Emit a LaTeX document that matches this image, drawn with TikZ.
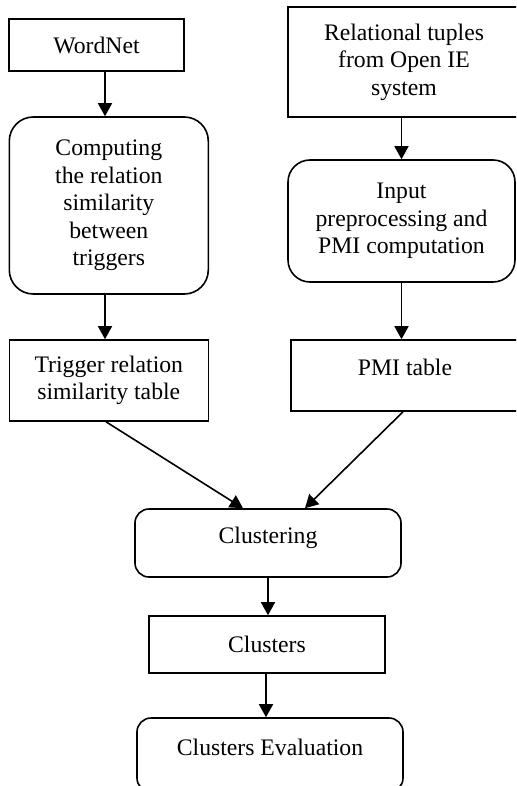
\documentclass[tikz,border=0pt]{standalone}
\usepackage{fontspec}
\setmainfont{Liberation Serif}
\usetikzlibrary{arrows.meta}
\begin{document}
\begin{tikzpicture}[x=1pt,y=-1pt,
  box/.style={draw, line width=1.6pt, align=center, inner sep=0pt, font=\fontsize{23.7}{27.5}\selectfont},
  rbox/.style={box, rounded corners=#1},
  rbox/.default=12pt,
  hd/.style={text height=12pt, text depth=12pt},
  arr/.style={-{Triangle[length=13pt,width=14pt]}, line width=1.6pt},
]
\useasboundingbox (0,0) rectangle (516,786);
\clip (0,0) rectangle (516,786);

\node[box, minimum width=175pt, minimum height=52pt] (wordnet) at (96.5,45) {WordNet};
\node[box, minimum width=232pt, minimum height=110pt] (rel) at (404,62) {Relational tuples\\from Open IE\\system};
\node[rbox=24pt, minimum width=199pt, minimum height=177pt] (computing) at (108.8,205.5) {Computing\\the relation\\similarity\\between\\triggers};
\node[rbox=22pt, minimum width=227pt, minimum height=122pt] (inp) at (401.5,221) {Input\\preprocessing and\\PMI computation};
\node[box, minimum width=199pt, minimum height=81pt] (trigger) at (108.8,380.5) {Trigger relation\\similarity table};
\node[box, hd, minimum width=228pt, minimum height=71pt] (pmi) at (405,375.5) {PMI table};
\node[rbox=14pt, hd, minimum width=266pt, minimum height=68pt] (clustering) at (268,543) {Clustering};
\node[box, minimum width=236pt, minimum height=57pt] (clusters) at (267,644.5) {Clusters};
\node[rbox=14pt, hd, minimum width=266pt, minimum height=74pt] (eval) at (270,755) {Clusters Evaluation};

\draw[arr] ([xshift=8.5pt]wordnet.south) -- ([xshift=8.5pt]wordnet.south |- computing.north);
\draw[arr] ([xshift=-3.8pt]computing.south) -- ([xshift=-3.8pt]trigger.north);
\draw[arr] (rel.south -| inp.north) -- (inp.north);
\draw[arr] (inp.south) -- (inp.south |- pmi.north);
\draw[arr] ([xshift=-2.8pt]trigger.south) -- ([xshift=-25pt]clustering.north);
\draw[arr] ([xshift=-2pt]pmi.south) -- ([xshift=37pt]clustering.north);
\draw[arr] (clustering.south) -- (clustering.south |- clusters.north);
\draw[arr] ([xshift=-1pt]clusters.south) -- ([xshift=-1pt]clusters.south |- eval.north);
\end{tikzpicture}
\end{document}
